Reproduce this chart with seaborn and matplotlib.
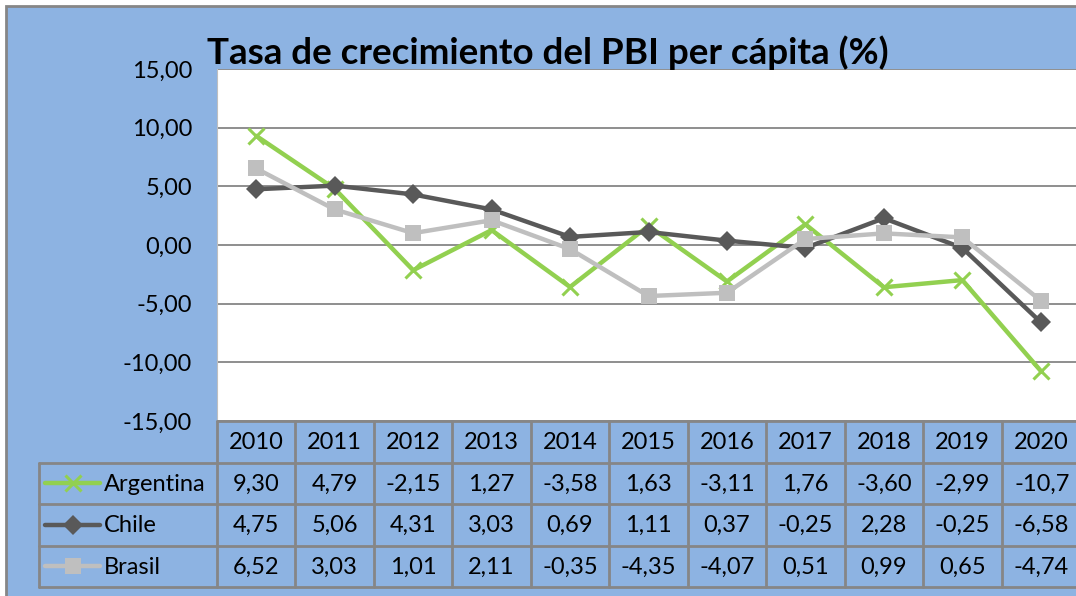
import numpy as np
import pandas as pd
import matplotlib
matplotlib.use("Agg")
import matplotlib.pyplot as plt
from matplotlib.patches import Rectangle
from matplotlib.transforms import Bbox
import seaborn as sns

years = [2010, 2011, 2012, 2013, 2014, 2015, 2016, 2017, 2018, 2019, 2020]
argentina = [9.30, 4.79, -2.15, 1.27, -3.58, 1.63, -3.11, 1.76, -3.60, -2.99, -10.73]
chile = [4.75, 5.06, 4.31, 3.03, 0.69, 1.11, 0.37, -0.25, 2.28, -0.25, -6.58]
brasil = [6.52, 3.03, 1.01, 2.11, -0.35, -4.35, -4.07, 0.51, 0.99, 0.65, -4.74]
series_names = ["Argentina", "Chile", "Brasil"]
y_ticks = [-15, -10, -5, 0, 5, 10, 15]
title = "Tasa de crecimiento del PBI per cápita (%)"

W, H = 1076, 596
BG = "#8DB3E2"
GRID = "#868686"
styles = {
    "Argentina": dict(color="#92D050", marker="x", ms=12, mew=2.2),
    "Chile": dict(color="#595959", marker="D", ms=10, mew=0),
    "Brasil": dict(color="#BFBFBF", marker="s", ms=12, mew=0),
}

sns.set_style("white")
plt.rcParams["font.family"] = ["Lato", "DejaVu Sans"]
plt.rcParams["text.color"] = "black"
plt.rcParams["ytick.color"] = "black"

df = pd.DataFrame({"year": years, "Argentina": argentina, "Chile": chile, "Brasil": brasil})
df["pos"] = np.arange(len(years))
long = df.melt(id_vars=["year", "pos"], value_vars=series_names, var_name="pais", value_name="valor")

fig = plt.figure(figsize=(W / 100, H / 100), dpi=100)
fig.patch.set_facecolor("white")
fig.patches.append(Rectangle((6 / W, -0.1), 1.2, 1 - 6 / H + 0.1, transform=fig.transFigure,
                             facecolor=BG, edgecolor=GRID, linewidth=2, zorder=-10))


def fbox(x0, y0, x1, y1):
    return [x0 / W, 1 - y1 / H, (x1 - x0) / W, (y1 - y0) / H]


# main plot area
x_left, x_right, y_top, y_bot = 217, 1080, 69, 421
ax = fig.add_axes(fbox(x_left, y_top, x_right, y_bot))
ax.set_facecolor("white")
for name in series_names:
    st = styles[name]
    sub = long[long["pais"] == name]
    sns.lineplot(data=sub, x="pos", y="valor", ax=ax, color=st["color"], linewidth=3.2,
                 marker=st["marker"], markersize=st["ms"], markeredgewidth=st["mew"],
                 markeredgecolor=st["color"], legend=False)
ax.set_xlim(-0.5, len(years) - 0.5)
ax.set_ylim(-15, 15)
ax.set_xticks([])
ax.set_yticks(y_ticks)
ax.set_yticklabels([f"{v:.2f}".replace(".", ",") for v in y_ticks], fontsize=17)
ax.tick_params(axis="y", length=0, pad=18, labelcolor="black")
ax.set_xlabel("")
ax.set_ylabel("")
for v in y_ticks:
    ax.axhline(v, color=GRID, linewidth=1.3, zorder=0)
for s in ["top", "left", "right", "bottom"]:
    ax.spines[s].set_visible(False)
ax.spines["left"].set_visible(True)
ax.spines["left"].set_color("#BFBFBF")

fig.text(548 / W, 1 - 64 / H, title, ha="center", va="baseline", fontsize=26.5,
         fontweight="bold", color="black")

# data table
unit = (x_right - x_left) / len(years)
t_left = 39
tab = fig.add_axes(fbox(t_left, y_bot, x_right, 587))
tab.set_xlim(-0.5 - (x_left - t_left) / unit, len(years) - 0.5)
tab.set_ylim(4, 0)
tab.axis("off")
xl = -0.5 - (x_left - t_left) / unit
lk = dict(color=GRID, linewidth=2, clip_on=False)
tab.plot([-0.5, len(years) - 0.5], [0, 0], **lk)
for r in range(1, 5):
    tab.plot([xl, len(years) - 0.5], [r, r], **lk)
for k in range(len(years) + 1):
    tab.plot([-0.5 + k, -0.5 + k], [0, 4], **lk)
tab.plot([xl, xl], [1, 4], **lk)

for i, yr in enumerate(years):
    tab.text(i, 0.52, str(yr), ha="center", va="center", fontsize=17)

clip = Bbox.from_extents(0, 0, 1070, H)
for r, name in enumerate(series_names, start=1):
    vals = df[name].tolist()
    st = styles[name]
    for i, v in enumerate(vals):
        s = f"{v:.2f}".replace(".", ",")
        if len(s) > 5:
            t = tab.text(i - 0.33, r + 0.52, s, ha="left", va="center", fontsize=17)
            t.set_clip_box(clip)
            t.set_clip_on(True)
        else:
            tab.text(i, r + 0.52, s, ha="center", va="center", fontsize=17)
    # legend key
    x0 = xl + 6 / unit
    x1 = xl + 61 / unit
    tab.plot([x0, x1], [r + 0.5, r + 0.5], color=st["color"], linewidth=3.2, clip_on=False)
    tab.plot([(x0 + x1) / 2], [r + 0.5], marker=st["marker"], color=st["color"], ms=st["ms"],
             mew=st["mew"], mec=st["color"], clip_on=False)
    tab.text(xl + 65 / unit, r + 0.52, name, ha="left", va="center", fontsize=17)

fig.savefig("out.png", dpi=100, facecolor="white")
